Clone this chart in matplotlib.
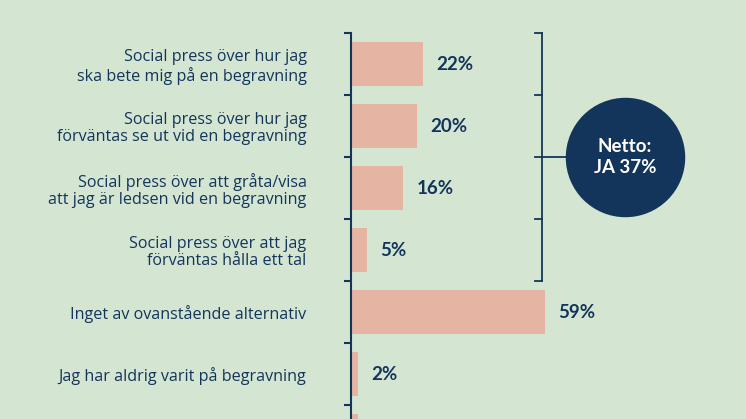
import matplotlib.pyplot as plt

# data
labels = [
    'Social press över hur jag\nska bete mig på en begravning',
    'Social press över hur jag\nförväntas se ut vid en begravning',
    'Social press över att gråta/visa\natt jag är ledsen vid en begravning',
    'Social press över att jag\nförväntas hålla ett tal',
    'Inget av ovanstående alternativ',
    'Jag har aldrig varit på begravning',
    '',
]
values = [22, 20, 16, 5, 59, 2, 2]
value_labels = ['22%', '20%', '16%', '5%', '59%', '2%', '']
netto_text = 'Netto:\nJA 37%'

bg = '#d4e6d2'
bar_col = '#e6b4a2'
navy = '#14355b'

plt.rcParams['font.family'] = ['Lato', 'DejaVu Sans']

W, H = 746, 419
fig = plt.figure(figsize=(W / 100, H / 100), dpi=100)
fig.patch.set_facecolor(bg)

# axes placed in pixel units: spine at x=351, 3.28 px per %, rows of 62 px from y=33
n = len(values)
ax = fig.add_axes([351 / W, 1 - (33 + 62 * n) / H, 328 / W, 62 * n / H])
ax.set_facecolor(bg)
ax.set_xlim(0, 100)
ax.set_ylim(n - 0.5, -0.5)

ypos = list(range(n))
ax.barh(ypos, values, height=0.71, color=bar_col, zorder=2)

for y, v, t in zip(ypos, values, value_labels):
    ax.annotate(t, (v, y), xytext=(9.5, 0), textcoords='offset points',
                va='center', ha='left', fontsize=13.5, fontweight='bold', color=navy)

for s in ['top', 'right', 'bottom']:
    ax.spines[s].set_visible(False)
ax.spines['left'].set_color(navy)
ax.spines['left'].set_linewidth(1.5)
ax.set_xticks([])
ax.set_yticks(ypos)
ax.set_yticklabels(labels, fontsize=11.6, color=navy, linespacing=1.12,
                   family=['Open Sans', 'DejaVu Sans'], fontweight='medium')
ax.tick_params(axis='y', which='major', length=0, pad=32)
ax.set_yticks([i - 0.5 for i in range(n + 1)], minor=True)
ax.tick_params(axis='y', which='minor', length=5, width=1.5, color=navy)

# bracket around the first four rows
bx = (542 - 351) / 3.28
tick = 7 / 3.28
ax.plot([bx, bx], [-0.5, 3.5], color=navy, lw=1.3, clip_on=False, zorder=3)
for yy in [-0.5, 0.5, 1.5, 2.5, 3.5]:
    ax.plot([bx - tick, bx], [yy, yy], color=navy, lw=1.3, clip_on=False, zorder=3)
cx = (625 - 351) / 3.28
ax.plot([bx, cx], [1.5, 1.5], color=navy, lw=1.3, clip_on=False, zorder=3)

# netto circle
ax.scatter([cx], [1.5], s=85 ** 2, color=navy, clip_on=False, zorder=4)
ax.text(cx, 1.5, netto_text, ha='center', va='center', fontsize=13.5,
        fontweight='bold', color='white', linespacing=1.3, zorder=5)

fig.savefig('out.png', dpi=100, facecolor=bg)
